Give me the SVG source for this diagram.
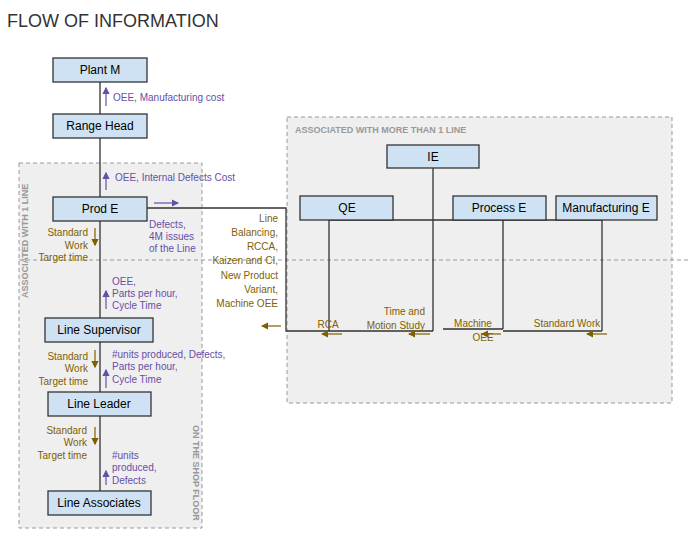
<svg xmlns="http://www.w3.org/2000/svg" width="689" height="540" viewBox="0 0 689 540">
<style>
text{font-family:"Liberation Sans",Arial,sans-serif}
.n rect{fill:#cfe2f3;stroke:#333;stroke-width:1.3}
.n text{font-size:12px;fill:#000;text-anchor:middle}
.p{font-size:10px;fill:#674ea7}
.o{font-size:10px;fill:#7f6000}
.c{stroke:#333;stroke-width:1.3;fill:none}
.ap{stroke:#674ea7;stroke-width:1.2;fill:none}
.ao{stroke:#7f6000;stroke-width:1.2;fill:none}
.reg{fill:#efefef;stroke:#999;stroke-dasharray:4,3}
.rl{font-size:9px;font-weight:bold;fill:#999}
</style>
<defs>
<marker id="mp" markerWidth="6" markerHeight="6" refX="5" refY="3" orient="auto"><path d="M0,0L6,3L0,6z" fill="#674ea7"/></marker>
<marker id="mo" markerWidth="6" markerHeight="6" refX="5" refY="3" orient="auto"><path d="M0,0L6,3L0,6z" fill="#7f6000"/></marker>
</defs>
<rect width="689" height="540" fill="#fff"/>
<text x="7" y="27" font-size="18" fill="#333">FLOW OF INFORMATION</text>
<rect class="reg" x="19" y="163" width="183" height="365"/>
<rect class="reg" x="287" y="117" width="385" height="286"/>
<line x1="19" y1="260" x2="689" y2="260" stroke="#999" stroke-dasharray="4,3"/>
<text class="rl" x="295" y="133">ASSOCIATED WITH MORE THAN 1 LINE</text>
<text class="rl" transform="translate(28,298) rotate(-90)">ASSOCIATED WITH 1 LINE</text>
<text class="rl" transform="translate(193,425) rotate(90)">ON THE SHOP FLOOR</text>
<g id="connectors">
<path class="c" d="M100,82V114M100,138V197M100,221V318M100,342V392M100,416V491"/>
<path class="c" d="M147,208H286V331H433M443,329H503M503,331H602M329,220H602M329,220V331M433,168V331M503,220V329M602,220V331"/>
</g>
<g id="plant-m" class="n"><rect x="53" y="58" width="94" height="24"/><text x="100" y="74">Plant M</text></g>
<g id="range-head" class="n"><rect x="53" y="114" width="94" height="24"/><text x="100" y="130">Range Head</text></g>
<g id="prod-e" class="n"><rect x="53" y="197" width="94" height="24"/><text x="100" y="213">Prod E</text></g>
<g id="line-supervisor" class="n"><rect x="45" y="318" width="108" height="24"/><text x="99" y="334">Line Supervisor</text></g>
<g id="line-leader" class="n"><rect x="48" y="392" width="103" height="24"/><text x="99" y="408">Line Leader</text></g>
<g id="line-associates" class="n"><rect x="48" y="491" width="103" height="24"/><text x="99" y="507">Line Associates</text></g>
<g id="ie" class="n"><rect x="387" y="145" width="92" height="23"/><text x="433" y="161">IE</text></g>
<g id="qe" class="n"><rect x="300" y="196" width="93" height="24"/><text x="347" y="212">QE</text></g>
<g id="process-e" class="n"><rect x="453" y="196" width="93" height="24"/><text x="499" y="212">Process E</text></g>
<g id="manufacturing-e" class="n"><rect x="556" y="196" width="101" height="24"/><text x="606" y="212">Manufacturing E</text></g>
<g id="arrows">
<line class="ap" x1="106" y1="106" x2="106" y2="88" marker-end="url(#mp)"/>
<line class="ap" x1="106" y1="190" x2="106" y2="173" marker-end="url(#mp)"/>
<line class="ap" x1="154" y1="203" x2="178" y2="203" marker-end="url(#mp)"/>
<line class="ap" x1="106" y1="309" x2="106" y2="291" marker-end="url(#mp)"/>
<line class="ap" x1="106" y1="388" x2="106" y2="370" marker-end="url(#mp)"/>
<line class="ap" x1="106" y1="485" x2="106" y2="471" marker-end="url(#mp)"/>
<line class="ao" x1="95" y1="228" x2="95" y2="245" marker-end="url(#mo)"/>
<line class="ao" x1="95" y1="350" x2="95" y2="367" marker-end="url(#mo)"/>
<line class="ao" x1="95" y1="427" x2="95" y2="444" marker-end="url(#mo)"/>
<line class="ao" x1="281" y1="326" x2="262" y2="326" marker-end="url(#mo)"/>
<line class="ao" x1="342" y1="334" x2="322" y2="334" marker-end="url(#mo)"/>
<line class="ao" x1="430" y1="334" x2="409" y2="334" marker-end="url(#mo)"/>
<line class="ao" x1="501" y1="334" x2="482" y2="334" marker-end="url(#mo)"/>
<line class="ao" x1="607" y1="334" x2="587" y2="334" marker-end="url(#mo)"/>
</g>
<g id="labels">
<text class="p" x="113" y="101" font-size="12">OEE, Manufacturing cost</text>
<text class="p" x="115" y="181">OEE, Internal Defects Cost</text>
<text class="p" x="149" y="228">Defects,</text>
<text class="p" x="149" y="240">4M issues</text>
<text class="p" x="149" y="252">of the Line</text>
<text class="o" text-anchor="end"><tspan x="88" y="236">Standard</tspan><tspan x="88" y="249">Work</tspan><tspan x="88" y="261">Target time</tspan></text>
<text class="p" x="112" y="285">OEE,</text>
<text class="p" x="112" y="297">Parts per hour,</text>
<text class="p" x="112" y="309">Cycle Time</text>
<text class="o" text-anchor="end"><tspan x="88" y="360">Standard</tspan><tspan x="88" y="372">Work</tspan><tspan x="88" y="385">Target time</tspan></text>
<text class="p" x="112" y="358">#units produced, Defects,</text>
<text class="p" x="112" y="370">Parts per hour,</text>
<text class="p" x="112" y="383">Cycle Time</text>
<text class="o" text-anchor="end"><tspan x="87" y="434">Standard</tspan><tspan x="87" y="446">Work</tspan><tspan x="87" y="459">Target time</tspan></text>
<text class="p" x="112" y="459">#units</text>
<text class="p" x="112" y="471">produced,</text>
<text class="p" x="112" y="484">Defects</text>
<text class="o" text-anchor="end"><tspan x="278" y="222">Line</tspan><tspan x="278" y="236">Balancing,</tspan><tspan x="278" y="250">RCCA,</tspan><tspan x="278" y="264">Kaizen and CI,</tspan><tspan x="278" y="279">New Product</tspan><tspan x="278" y="293">Variant,</tspan><tspan x="278" y="307">Machine OEE</tspan></text>
<text class="o" x="328" y="328" text-anchor="middle">RCA</text>
<text class="o" text-anchor="end"><tspan x="425" y="315">Time and</tspan><tspan x="425" y="329">Motion Study</tspan></text>
<text class="o" x="473" y="327" text-anchor="middle">Machine</text>
<text class="o" x="483" y="341" text-anchor="middle">OEE</text>
<text class="o" x="567" y="327" text-anchor="middle">Standard Work</text>
</g>
</svg>
